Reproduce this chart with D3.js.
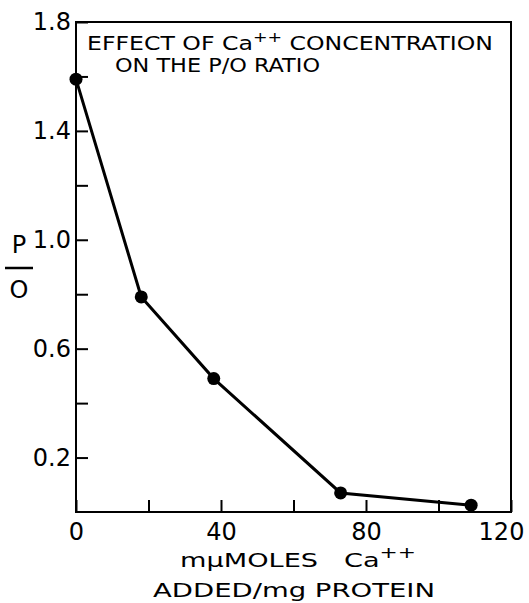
<!DOCTYPE html>
<html>
<head>
<meta charset="utf-8">
<script src="https://cdn.jsdelivr.net/npm/d3@7"></script>
<style>
  html, body { margin: 0; padding: 0; background: #fff; }
  text { font-family: "DejaVu Sans", sans-serif; fill: #000; }
</style>
</head>
<body>
<div id="container"></div>
<script>
/* CONSTANTS AND GLOBALS */
const width = 529,
  height = 603,
  margin = { top: 22, bottom: 91, left: 76, right: 18 };

/* DATA */
const calcium = [0, 18, 38, 73, 109];       // mµmoles Ca++ added / mg protein
const poRatio = [1.59, 0.79, 0.49, 0.07, 0.025];
const xMajor = [0, 40, 80, 120];
const xMinor = [20, 60, 100];
const yMajor = [0.2, 0.6, 1.0, 1.4, 1.8];
const yMinor = [0.4, 0.8, 1.2, 1.6];

const points = calcium.map((c, i) => ({ x: c, y: poRatio[i] }));

/* SCALES */
const xScale = d3.scaleLinear()
  .domain([0, 120])
  .range([margin.left, width - margin.right]);

const yScale = d3.scaleLinear()
  .domain([0, 1.8])
  .range([height - margin.bottom, margin.top]);

/* SVG */
const svg = d3.select("#container")
  .append("svg")
  .attr("width", width)
  .attr("height", height);

// frame
svg.append("rect")
  .attr("x", xScale(0))
  .attr("y", yScale(1.8))
  .attr("width", xScale(120) - xScale(0))
  .attr("height", yScale(0) - yScale(1.8))
  .attr("fill", "none")
  .attr("stroke", "#000")
  .attr("stroke-width", 2);

// x axis, ticks pointing in
const xAxis = d3.axisBottom(xScale)
  .tickValues(xMajor.concat(xMinor))
  .tickSize(-12)
  .tickPadding(11)
  .tickFormat(d => xMajor.includes(d) ? d : "");

const gx = svg.append("g")
  .attr("transform", `translate(0,${yScale(0)})`)
  .call(xAxis);
gx.select(".domain").remove();
gx.selectAll("line").attr("stroke-width", 2);
gx.selectAll("text")
  .style("font-size", "24px")
  .attr("dx", d => d === 120 ? -10 : 0);

// y axis, ticks pointing in
const yAxis = d3.axisLeft(yScale)
  .tickValues(yMajor.concat(yMinor))
  .tickSize(-12)
  .tickPadding(5)
  .tickFormat(d => yMajor.includes(d) ? d3.format(".1f")(d) : "");

const gy = svg.append("g")
  .attr("transform", `translate(${xScale(0)},0)`)
  .call(yAxis);
gy.select(".domain").remove();
gy.selectAll("line").attr("stroke-width", 2);
gy.selectAll("text").style("font-size", "24px");

// line
const line = d3.line()
  .x(d => xScale(d.x))
  .y(d => yScale(d.y));

svg.append("path")
  .datum(points)
  .attr("d", line)
  .attr("fill", "none")
  .attr("stroke", "#000")
  .attr("stroke-width", 3);

// dots
svg.selectAll(".dot")
  .data(points)
  .join("circle")
  .attr("class", "dot")
  .attr("cx", d => xScale(d.x))
  .attr("cy", d => yScale(d.y))
  .attr("r", 6.5)
  .attr("fill", "#000");

// title
const t1 = svg.append("text")
  .attr("x", 87)
  .attr("y", 50)
  .attr("textLength", 406)
  .attr("lengthAdjust", "spacingAndGlyphs")
  .style("font-size", "19px");
t1.append("tspan").text("EFFECT OF Ca");
t1.append("tspan").attr("dy", -8).style("font-size", "14px").text("++");
t1.append("tspan").attr("dy", 8).text(" CONCENTRATION");

svg.append("text")
  .attr("x", 115)
  .attr("y", 72)
  .attr("textLength", 205)
  .attr("lengthAdjust", "spacingAndGlyphs")
  .style("font-size", "19px")
  .text("ON THE P/O RATIO");

// y label as a fraction
svg.append("text")
  .attr("x", 19)
  .attr("y", 253)
  .attr("text-anchor", "middle")
  .style("font-size", "24px")
  .text("P");
svg.append("line")
  .attr("x1", 5).attr("x2", 33)
  .attr("y1", 268).attr("y2", 268)
  .attr("stroke", "#000")
  .attr("stroke-width", 2.5);
svg.append("text")
  .attr("x", 19)
  .attr("y", 298)
  .attr("text-anchor", "middle")
  .style("font-size", "24px")
  .text("O");

// x label
const xl1 = svg.append("text")
  .attr("x", 180)
  .attr("y", 567)
  .attr("textLength", 236)
  .attr("lengthAdjust", "spacingAndGlyphs")
  .style("font-size", "20px")
  .style("white-space", "pre");
xl1.append("tspan").text("mµMOLES   Ca");
xl1.append("tspan").attr("dy", -9).style("font-size", "16px").text("++");

svg.append("text")
  .attr("x", 153)
  .attr("y", 597)
  .attr("textLength", 282)
  .attr("lengthAdjust", "spacingAndGlyphs")
  .style("font-size", "20px")
  .text("ADDED/mg PROTEIN");
</script>
</body>
</html>
